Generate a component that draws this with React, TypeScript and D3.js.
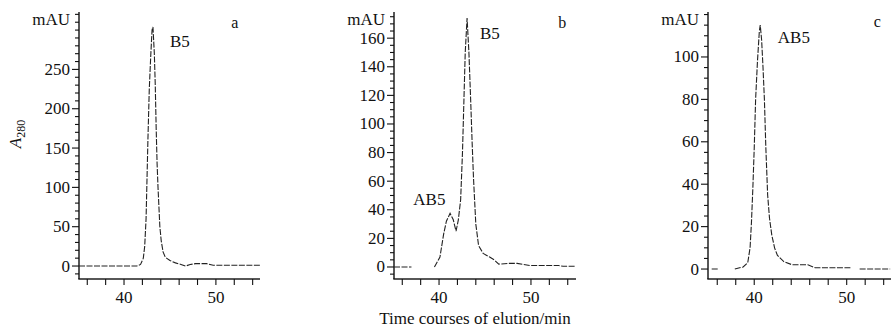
import * as d3 from "d3";
import React from "react";

// elution time (min) vs absorbance (mAU); null marks a gap in the trace
const elutionA: [number, number | null][] = [
  [35.1, 0], [41.4, 0], [41.8, 2], [42.1, 10], [42.25, 25], [42.4, 60], [42.5, 110],
  [42.6, 160], [42.75, 225], [42.9, 265], [43.05, 300], [43.15, 304], [43.3, 270],
  [43.4, 230], [43.5, 175], [43.6, 130], [43.7, 100], [43.8, 75], [43.9, 50],
  [44.05, 32], [44.25, 18], [44.5, 11], [45, 7], [45.6, 4], [46.2, 2], [46.7, 0],
  [47.2, 2], [47.8, 3], [49, 3], [49.7, 1], [52, 1], [54.8, 1],
];

const elutionB: [number, number | null][] = [
  [35.1, 0], [37, 0], [37, null], [39.5, 0], [40.1, 7], [40.5, 23], [40.8, 32],
  [41.2, 37.5], [41.55, 33], [41.85, 25], [42.1, 33], [42.35, 47], [42.55, 80],
  [42.7, 115], [42.85, 150], [43.05, 174], [43.25, 150], [43.45, 115], [43.6, 87],
  [43.75, 62], [44, 30], [44.3, 15], [44.8, 9.5], [45.5, 7], [46, 5], [46.5, 2],
  [47.5, 2.5], [48.5, 2.5], [49.9, 1], [53, 1], [53.5, 0.5], [54.9, 0.5],
];

const elutionC: [number, number | null][] = [
  [35.4, 0], [36.1, 0], [36.1, null], [37.9, 0], [38.8, 1], [39.3, 3], [39.55, 10],
  [39.7, 22], [39.85, 38], [40.0, 57], [40.15, 80], [40.35, 98], [40.55, 112],
  [40.65, 115], [40.8, 108], [40.95, 95], [41.1, 80], [41.25, 58], [41.45, 35],
  [41.65, 24], [41.9, 16], [42.2, 10], [42.5, 6.5], [43.2, 3.5], [44.1, 2],
  [45.8, 2], [46.6, 0.6], [50.4, 0.6], [50.4, null], [51.4, 0], [54.7, 0],
];

const yTicksA = [0, 50, 100, 150, 200, 250];
const yTicksB = [0, 20, 40, 60, 80, 100, 120, 140, 160];
const yTicksC = [0, 20, 40, 60, 80, 100];
const xTicks = [36, 38, 40, 42, 44, 46, 48, 50, 52, 54];
const xTickLabels = [40, 50];

const panelLetters = ["a", "b", "c"];
// peak names with [time, mAU] anchor
const peakLabelsA: [string, number, number][] = [["B5", 45.0, 285]];
const peakLabelsB: [string, number, number][] = [["B5", 44.45, 163], ["AB5", 37.2, 47]];
const peakLabelsC: [string, number, number][] = [["AB5", 42.55, 109]];
const letterPos: [number, number][] = [[52.06, 310], [53.4, 171], [53.3, 116.5]];

const FONT = "'Liberation Serif', 'Times New Roman', serif";
const TOP = 12;
const BOTTOM = 279;

const panels = [
  { data: elutionA, xd: [35.1, 54.8], xr: [79, 260], yd: [-16.5, 323], major: yTicksA, minorStep: 10, peaks: peakLabelsA },
  { data: elutionB, xd: [35.1, 54.9], xr: [394, 576], yd: [-8.4, 178.3], major: yTicksB, minorStep: 5, peaks: peakLabelsB },
  { data: elutionC, xd: [35.0, 54.9], xr: [708, 892], yd: [-4.7, 121.2], major: yTicksC, minorStep: 5, peaks: peakLabelsC },
];

const App: React.FC = () => {
  return (
    <svg width={891} height={330} style={{ position: "absolute", left: 0, top: 0, background: "#fff" }}>
      {panels.map((p, i) => {
        const x = d3.scaleLinear().domain(p.xd).range(p.xr);
        const y = d3.scaleLinear().domain(p.yd).range([BOTTOM, TOP]);
        const x0 = p.xr[0];
        const yTickVals = d3.range(Math.ceil(p.yd[0] / p.minorStep) * p.minorStep, p.yd[1], p.minorStep);
        const line = d3
          .line<[number, number | null]>()
          .defined((d) => d[1] !== null)
          .x((d) => x(d[0]))
          .y((d) => y(d[1] as number));
        return (
          <g key={`panel${i}`}>
            {/* axis frame as thin rects */}
            <rect x={x0 - 0.7} y={TOP} width={1.4} height={BOTTOM - TOP} fill="#111" />
            <rect x={x0 - 0.7} y={BOTTOM - 0.7} width={p.xr[1] - x0 + 0.7} height={1.4} fill="#111" />
            {yTickVals.map((v) => {
              const len = p.major.includes(v) ? 7 : 4;
              return <rect key={`yt${v}`} x={x0 - len} y={y(v) - 0.55} width={len} height={1.1} fill="#111" />;
            })}
            {xTicks.map((t) => (
              <rect key={`xt${t}`} x={x(t) - 0.55} y={BOTTOM} width={1.1} height={6} fill="#111" />
            ))}
            {p.major.map((v) => (
              <text
                key={`yl${v}`}
                x={x0 - 9}
                y={y(v)}
                textAnchor="end"
                dominantBaseline="central"
                fill="#111"
                style={{ fontFamily: FONT, fontSize: 17 }}
              >
                {v}
              </text>
            ))}
            {xTickLabels.map((t) => (
              <text
                key={`xl${t}`}
                x={x(t)}
                y={BOTTOM + 18}
                textAnchor="middle"
                dominantBaseline="central"
                fill="#111"
                style={{ fontFamily: FONT, fontSize: 17 }}
              >
                {t}
              </text>
            ))}
            <text
              x={x0 - 9}
              y={TOP + 7}
              textAnchor="end"
              dominantBaseline="central"
              fill="#111"
              style={{ fontFamily: FONT, fontSize: 17 }}
            >
              mAU
            </text>
            <path d={line(p.data) || ""} fill="none" stroke="#222" strokeWidth={1.1} strokeDasharray="6 1.5" />
            <text
              x={x(letterPos[i][0])}
              y={y(letterPos[i][1])}
              textAnchor="middle"
              dominantBaseline="central"
              fill="#111"
              style={{ fontFamily: FONT, fontSize: 16 }}
            >
              {panelLetters[i]}
            </text>
            {p.peaks.map(([name, t, v]) => (
              <text
                key={name}
                x={x(t)}
                y={y(v)}
                dominantBaseline="central"
                fill="#111"
                style={{ fontFamily: FONT, fontSize: 17 }}
              >
                {name}
              </text>
            ))}
          </g>
        );
      })}
      <text
        transform="translate(21,134) rotate(-90)"
        textAnchor="middle"
        fill="#111"
        style={{ fontFamily: FONT, fontSize: 17 }}
      >
        <tspan fontStyle="italic">A</tspan>
        <tspan dy={4} style={{ fontSize: 12 }}>
          280
        </tspan>
      </text>
      <text
        x={475}
        y={318}
        textAnchor="middle"
        dominantBaseline="central"
        fill="#111"
        style={{ fontFamily: FONT, fontSize: 17 }}
      >
        Time courses of elution/min
      </text>
    </svg>
  );
};

export default App;
